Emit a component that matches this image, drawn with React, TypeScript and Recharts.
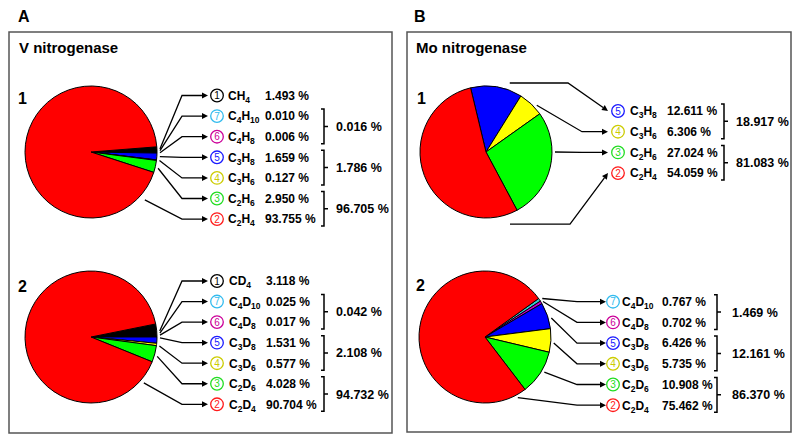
import React from 'react';
import { PieChart, Pie, Cell } from 'recharts';

const FONT = '"Liberation Sans", Arial, Helvetica, sans-serif';

// ---------- DATA ----------
// Panel A, pie 1 (V nitrogenase, C2H2)
const a1Species = ['CH4', 'C4H10', 'C4H8', 'C3H8', 'C3H6', 'C2H6', 'C2H4'];
const a1Numbers = [1, 7, 6, 5, 4, 3, 2];
const a1Values = [1.493, 0.01, 0.006, 1.659, 0.127, 2.95, 93.755];
const a1Totals = [0.016, 1.786, 96.705];

// Panel A, pie 2 (V nitrogenase, C2D2)
const a2Species = ['CD4', 'C4D10', 'C4D8', 'C3D8', 'C3D6', 'C2D6', 'C2D4'];
const a2Numbers = [1, 7, 6, 5, 4, 3, 2];
const a2Values = [3.118, 0.025, 0.017, 1.531, 0.577, 4.028, 90.704];
const a2Totals = [0.042, 2.108, 94.732];

// Panel B, pie 1 (Mo nitrogenase, C2H2)
const b1Species = ['C3H8', 'C3H6', 'C2H6', 'C2H4'];
const b1Numbers = [5, 4, 3, 2];
const b1Values = [12.611, 6.306, 27.024, 54.059];
const b1Totals = [18.917, 81.083];

// Panel B, pie 2 (Mo nitrogenase, C2D2)
const b2Species = ['C4D10', 'C4D8', 'C3D8', 'C3D6', 'C2D6', 'C2D4'];
const b2Numbers = [7, 6, 5, 4, 3, 2];
const b2Values = [0.767, 0.702, 6.426, 5.735, 10.908, 75.462];
const b2Totals = [1.469, 12.161, 86.37];

const groupsA = [[1, 2], [3, 4], [5, 6]];
const groupsB1 = [[0, 1], [2, 3]];
const groupsB2 = [[0, 1], [2, 3], [4, 5]];

// ---------- STYLE ----------
const SLICE_FILL: Record<number, string> = {
  1: '#000000', 2: '#ff0000', 3: '#00ff00', 4: '#ffff00', 5: '#0000ff', 6: '#cc00cc', 7: '#33cccc',
};
const SYMBOL_COLOR: Record<number, string> = {
  1: '#000000', 2: '#ff1a1a', 3: '#22dd22', 4: '#cccc00', 5: '#1a1aff', 6: '#cc0099', 7: '#33bbee',
};

type Cfg = {
  species: string[]; numbers: number[]; values: number[]; totals: number[]; groups: number[][];
  cx: number; cy: number; r: number; start: number;
  rowTop: number; rowGap: number; tipX: number; circleX: number; formulaX: number; valueX: number;
  bracketX: number; totalX: number; anchors: number[]; anchorR: number[]; kinds: string[]; elbowX: number[];
};

const cfgA1: Cfg = {
  species: a1Species, numbers: a1Numbers, values: a1Values, totals: a1Totals, groups: groupsA,
  cx: 91, cy: 152, r: 66, start: 4.5,
  rowTop: 95.5, rowGap: 20.6, tipX: 117, circleX: 126, formulaX: 137, valueX: 174, bracketX: 233, totalX: 245,
  anchors: [2.5, 1.1, -0.6, -3.9, -7.1, -13.6, -41.6], anchorR: [3, 3, 3, 3, 3, 3, 6],
  kinds: ['dh', 'dh', 'dh', 'dh', 'dh', 'dh', 'dh'], elbowX: [91, 91, 91, 91, 91, 91, 91],
};
const cfgA2: Cfg = {
  species: a2Species, numbers: a2Numbers, values: a2Values, totals: a2Totals, groups: groupsA,
  cx: 91, cy: 337, r: 66, start: 11.4,
  rowTop: 281, rowGap: 20.55, tipX: 117, circleX: 126, formulaX: 138, valueX: 175, bracketX: 233, totalX: 245,
  anchors: [5, 3.3, 1.6, -0.8, -7.5, -16.3, -41], anchorR: [3, 3, 3, 3, 3, 3, 4],
  kinds: ['dh', 'dh', 'dh', 'dh', 'dh', 'dh', 'dh'], elbowX: [91, 91, 91, 91, 91, 91, 91],
};
const cfgB1: Cfg = {
  species: b1Species, numbers: b1Numbers, values: b1Values, totals: b1Totals, groups: groupsB1,
  cx: 486, cy: 152, r: 66, start: 103.5,
  rowTop: 111, rowGap: 20.7, tipX: 122, circleX: 132, formulaX: 144, valueX: 181, bracketX: 238, totalX: 250,
  anchors: [71, 42.6, 0, -71.6], anchorR: [7, 3, 3, 10],
  kinds: ['hd', 'dh', 'dh', 'hd'], elbowX: [82, 96, 96, 84],
};
const cfgB2: Cfg = {
  species: b2Species, numbers: b2Numbers, values: b2Values, totals: b2Totals, groups: groupsB2,
  cx: 485, cy: 337, r: 66, start: 35.7,
  rowTop: 301.7, rowGap: 20.7, tipX: 121, circleX: 128, formulaX: 137, valueX: 177, bracketX: 232, totalX: 247,
  anchors: [33.9, 31.5, 16, -5, -30.7, -61.6], anchorR: [3, 2, 3, 3, 3, 3],
  kinds: ['dh', 'dh', 'dh', 'dh', 'dh', 'dh'], elbowX: [92, 92, 92, 92, 92, 92],
};

const RAD = Math.PI / 180;

function Formula({ x, y, text }: { x: number; y: number; text: string }) {
  const parts = text.match(/[A-Z][a-z]?|\d+/g) || [];
  let shifted = false;
  return (
    <text x={x} y={y} fontFamily={FONT} fontWeight={700} fontSize={12} fill="#000" style={{ fontWeight: 700 }}>
      {parts.map((p, k) => {
        const isNum = /\d/.test(p);
        const dy = isNum && !shifted ? 3 : !isNum && shifted ? -3 : 0;
        shifted = isNum;
        return (
          <tspan key={k} dy={dy} fontSize={isNum ? 8.5 : 12} fontWeight={700} fontFamily={FONT}>
            {p}
          </tspan>
        );
      })}
    </text>
  );
}

function makeLabel(cfg: Cfg) {
  return (props: any) => {
    const { cx, cy, outerRadius, index } = props;
    const i = index as number;
    const rowY = (k: number) => cfg.rowTop + k * cfg.rowGap;
    const y = rowY(i);
    const a = cfg.anchors[i] * RAD;
    const ar = outerRadius + cfg.anchorR[i];
    const sx = cx + ar * Math.cos(a);
    const sy = cy - ar * Math.sin(a);
    const tipX = cx + cfg.tipX;
    const ex = cx + cfg.elbowX[i];
    const mid = cfg.kinds[i] === 'dh' ? [ex, y] : [ex, sy];
    const dx = tipX - mid[0];
    const dyv = y - mid[1];
    const len = Math.sqrt(dx * dx + dyv * dyv) || 1;
    const ux = dx / len, uy = dyv / len;
    const L = 6, W = 3;
    const bx = tipX - ux * L, by = y - uy * L;
    const arrow = `${tipX},${y} ${bx - uy * W},${by + ux * W} ${bx + uy * W},${by - ux * W}`;
    const num = cfg.numbers[i];
    const col = SYMBOL_COLOR[num];
    const grp = cfg.groups.findIndex((g) => g[0] === i);
    let bracket = null;
    if (grp >= 0) {
      const g = cfg.groups[grp];
      const yT = rowY(g[0]) - 7;
      const yB = rowY(g[g.length - 1]) + 7;
      const bxX = cx + cfg.bracketX;
      const ym = (yT + yB) / 2;
      bracket = (
        <g>
          <path
            d={`M${bxX - 3},${yT} H${bxX} V${yB} H${bxX - 3} M${bxX},${ym} H${bxX + 4}`}
            stroke="#000" strokeWidth={1.5} fill="none"
          />
          <text x={cx + cfg.totalX} y={ym + 4.5} fontFamily={FONT} fontWeight="bold" fontSize={12.5} fill="#000">
            {`${cfg.totals[grp].toFixed(3)} %`}
          </text>
        </g>
      );
    }
    return (
      <g key={`lab-${i}`}>
        <polyline
          points={`${sx},${sy} ${mid[0]},${mid[1]} ${bx},${by}`}
          fill="none" stroke="#000" strokeWidth={1.3}
        />
        <polygon points={arrow} fill="#000" />
        <circle cx={cx + cfg.circleX} cy={y} r={6.3} fill="#fff" stroke={col} strokeWidth={1.3} />
        <text x={cx + cfg.circleX} y={y + 3.6} textAnchor="middle" fontFamily={FONT} fontSize={10} fill={col}>
          {String(num)}
        </text>
        <Formula x={cx + cfg.formulaX} y={y + 4.3} text={cfg.species[i]} />
        <text x={cx + cfg.valueX} y={y + 4.3} fontFamily={FONT} fontWeight="bold" fontSize={12} fill="#000">
          {`${cfg.values[i].toFixed(3)} %`}
        </text>
        {bracket}
      </g>
    );
  };
}

function PieSeries(cfg: Cfg, key: string) {
  const data = cfg.species.map((s, k) => ({ name: s, value: cfg.values[k], num: cfg.numbers[k] }));
  return (
    <Pie
      key={key}
      data={data}
      dataKey="value"
      nameKey="name"
      cx={cfg.cx}
      cy={cfg.cy}
      outerRadius={cfg.r}
      innerRadius={0}
      startAngle={cfg.start}
      endAngle={cfg.start - 360}
      stroke="#000"
      strokeWidth={1}
      isAnimationActive={false}
      labelLine={false}
      label={makeLabel(cfg)}
    >
      {data.map((d, k) => (
        <Cell key={k} fill={SLICE_FILL[d.num]} />
      ))}
    </Pie>
  );
}

export default function App() {
  const txt = { fontFamily: FONT, fontWeight: 'bold' as const, fill: '#000' };
  return (
    <div style={{ position: 'absolute', left: 0, top: 0, width: 800, height: 442, background: '#fff', overflow: 'hidden' }}>
      <svg width={800} height={442} style={{ position: 'absolute', left: 0, top: 0 }}>
        <rect x={9} y={32} width={383} height={401} fill="none" stroke="#555" strokeWidth={1.5} />
        <rect x={407} y={32} width={384} height={400} fill="none" stroke="#555" strokeWidth={1.5} />
        <text x={18} y={22} fontSize={16} {...txt}>A</text>
        <text x={414} y={22} fontSize={16} {...txt}>B</text>
        <text x={19} y={53} fontSize={15} {...txt}>V nitrogenase</text>
        <text x={416} y={53} fontSize={15} {...txt}>Mo nitrogenase</text>
        <text x={18} y={104} fontSize={16} {...txt}>1</text>
        <text x={18} y={292} fontSize={16} {...txt}>2</text>
        <text x={417} y={104} fontSize={16} {...txt}>1</text>
        <text x={416} y={291} fontSize={16} {...txt}>2</text>
      </svg>
      <div style={{ position: 'absolute', left: 0, top: 0 }}>
        <PieChart width={800} height={442} margin={{ top: 0, right: 0, bottom: 0, left: 0 }}>
          {PieSeries(cfgA1, 'a1')}
          {PieSeries(cfgA2, 'a2')}
          {PieSeries(cfgB1, 'b1')}
          {PieSeries(cfgB2, 'b2')}
        </PieChart>
      </div>
    </div>
  );
}
